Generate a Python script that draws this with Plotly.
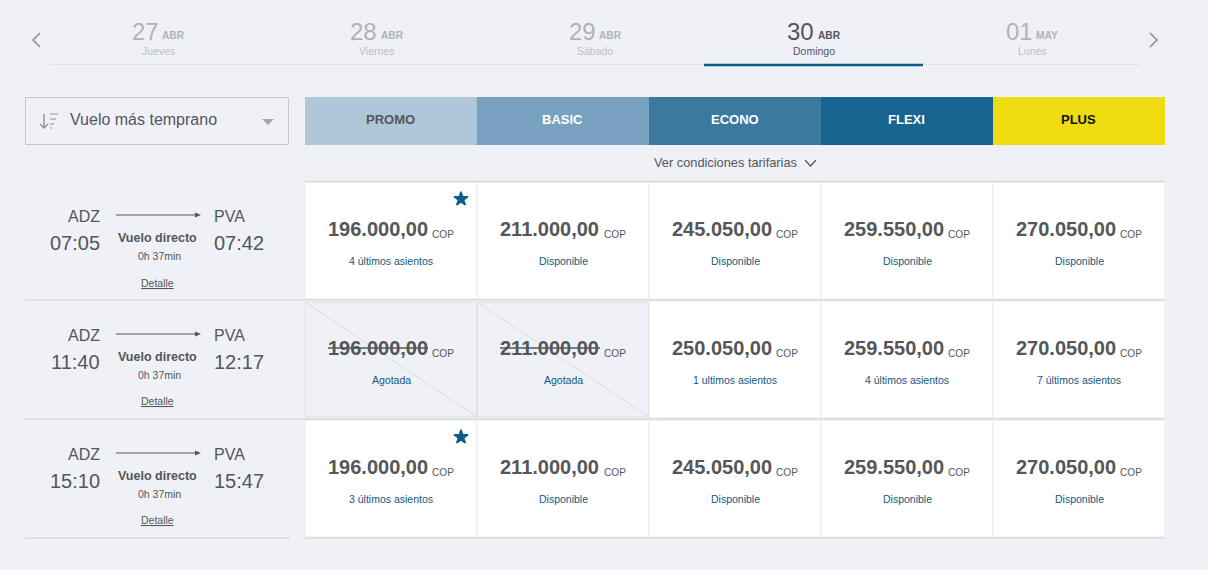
import plotly.graph_objects as go

# --- content -------------------------------------------------------------
date_days = ["27", "28", "29", "30", "01"]
date_months = ["ABR", "ABR", "ABR", "ABR", "MAY"]
date_weekdays = ["Jueves", "Viernes", "Sábado", "Domingo", "Lunes"]
active_date = 3

fares = ["PROMO", "BASIC", "ECONO", "FLEXI", "PLUS"]

origins = ["ADZ", "ADZ", "ADZ"]
destinations = ["PVA", "PVA", "PVA"]
departures = ["07:05", "11:40", "15:10"]
arrivals = ["07:42", "12:17", "15:47"]
flight_kind = ["Vuelo directo", "Vuelo directo", "Vuelo directo"]
durations = ["0h 37min", "0h 37min", "0h 37min"]

prices = [
    ["196.000,00", "211.000,00", "245.050,00", "259.550,00", "270.050,00"],
    ["196.000,00", "211.000,00", "250.050,00", "259.550,00", "270.050,00"],
    ["196.000,00", "211.000,00", "245.050,00", "259.550,00", "270.050,00"],
]
seats = [
    ["4 últimos asientos", "Disponible", "Disponible", "Disponible", "Disponible"],
    ["Agotada", "Agotada", "1 ultimos asientos", "4 últimos asientos", "7 últimos asientos"],
    ["3 últimos asientos", "Disponible", "Disponible", "Disponible", "Disponible"],
]
starred = [0, 2]

# --- style ---------------------------------------------------------------
BG = "#eff1f6"
FONT = "Liberation Sans"
DARK = "#54565c"
GREY = "#b1b3b8"
LINK = "#14587f"
NAVY = "#0e5c8c"
LINE = "#d8dade"
fare_fill = ["#b0c7d9", "#78a2bf", "#3c799f", "#186491", "#eedb10"]
fare_text = ["#54565c", "#ffffff", "#ffffff", "#ffffff", "#111111"]

shapes, annots = [], []


def text(x, y, s, size, color=DARK, anchor="center", bold=False):
    annots.append(dict(
        x=x, y=y, xref="x", yref="y", showarrow=False, xanchor=anchor,
        yanchor="middle", borderpad=0, borderwidth=0,
        text=f"<b>{s}</b>" if bold else s,
        font=dict(family=FONT, size=size, color=color),
    ))


def rect(x0, y0, x1, y1, fill, line=None, lw=1):
    shapes.append(dict(
        type="rect", xref="x", yref="y", x0=x0, y0=y0, x1=x1, y1=y1,
        fillcolor=fill, line=dict(color=line or "rgba(0,0,0,0)", width=lw if line else 0),
        layer="below",
    ))


def seg(x0, y0, x1, y1, color, lw=1, dash="solid", layer="below"):
    shapes.append(dict(
        type="line", xref="x", yref="y", x0=x0, y0=y0, x1=x1, y1=y1,
        line=dict(color=color, width=lw, dash=dash), layer=layer,
    ))


def path(d, color=None, lw=1.5, fill=None):
    shapes.append(dict(
        type="path", xref="x", yref="y", path=d,
        line=dict(color=color or "rgba(0,0,0,0)", width=lw if color else 0),
        fillcolor=fill or "rgba(0,0,0,0)", layer="above",
    ))


# date strip
TAB_X0, TAB_W = 49.5, 218.5
seg(50, 64.5, 1140, 64.5, "#d4d6da", 1, "1px,1px")
path("M40,33 L33,40 L40,47", "#8f9196", 1.6)
path("M1150,33 L1157,40 L1150,47", "#8f9196", 1.6)
for i, (d, m, w) in enumerate(zip(date_days, date_months, date_weekdays)):
    cx = TAB_X0 + TAB_W * (i + 0.5)
    on = i == active_date
    col = DARK if on else GREY
    text(cx, 31, d, 24, col, "right")
    text(cx + 3.5, 35, m, 10.2, col, "left", bold=True)
    text(cx - 0.5, 51, w, 10.5, DARK if on else "#bcbec3")
seg(704, 65, 923, 65, NAVY, 2.5, layer="above")

# sort box
rect(25.5, 97.5, 288.5, 144.5, BG, "#c4c6cb", 1)
text(70, 119, "Vuelo más temprano", 16, DARK, "left")
path("M44,114 L44,128 M40,124 L44,128 L48,124", "#8f9196", 1.4)
path("M50,114 L58,114 M50,119 L56,119 M50,124 L54,124 M50,128 L52,128", "#8f9196", 1.2)
path("M262,119 L274,119 L268,125 Z", None, fill="#a5a7ac")

# fare header
COL_X0, COL_W = 305, 172
for j, (name, fill, tc) in enumerate(zip(fares, fare_fill, fare_text)):
    x = COL_X0 + COL_W * j
    rect(x, 97, x + COL_W, 145, fill)
    text(x + COL_W / 2 - 0.5, 119, name, 13, tc, bold=True)
text(725.5, 162.3, "Ver condiciones tarifarias", 12.8, DARK)
path("M805,160 L810.5,166 L816,160", DARK, 1.2)

# rows
ROW_Y0 = 183
ROW_H = 119
CARD_H = 115
star_x, star_y = [], []
seg(305, 181.5, 1165, 181.5, LINE, 1.5)
for r in range(3):
    top = ROW_Y0 + ROW_H * r
    mid = top + 32
    base = top + CARD_H + 2
    if r < 2:
        seg(25, base, 1165, base, LINE, 1.5)
    else:
        seg(25, base, 290, base, LINE, 1.5)
        seg(305, base, 1165, base, LINE, 1.5)

    text(100, top + 33, origins[r], 16, DARK, "right")
    text(100, top + 59.5, departures[r], 20, DARK, "right")
    text(214, top + 33, destinations[r], 16, DARK, "left")
    text(214, top + 59.5, arrivals[r], 20, DARK, "left")
    text(157, top + 55, flight_kind[r], 12.5, DARK, bold=True)
    text(159, top + 72.5, durations[r], 10.5, DARK)
    text(157, top + 100 - (1 if r > 0 else 0), "<u>Detalle</u>", 10.5, DARK)
    seg(116, mid, 196, mid, DARK, 1)
    path(f"M195,{mid-2.5} L201,{mid} L195,{mid+2.5} Z", None, fill=DARK)

    for j in range(5):
        x = COL_X0 + COL_W * j
        sold = seats[r][j] == "Agotada"
        if sold:
            rect(x + 0.5, top + 0.5, x + COL_W - 0.5, top + CARD_H - 0.5, BG, "#e0e2e6", 1)
            seg(x, top, x + COL_W, top + CARD_H, "#dcdee2", 1)
        else:
            rect(x + 1, top, x + COL_W - 1, top + CARD_H, "#ffffff")
        text(x + 23, top + 46, prices[r][j], 20, DARK, "left", bold=True)
        if sold:
            seg(x + 23, top + 46, x + 123, top + 46, DARK, 1.4, layer="above")
        text(x + 127, top + 51, "COP", 10.1, DARK, "left")
        text(x + COL_W / 2, top + 78.3, seats[r][j], 10.5, LINK)

    if r in starred:
        star_x.append(COL_X0 + COL_W - 16)
        star_y.append(top + 16)

fig = go.Figure()
fig.add_trace(go.Scatter(
    x=star_x, y=star_y, mode="markers", hoverinfo="skip",
    marker=dict(symbol="star", size=10.5, color=NAVY, line=dict(width=1.5, color=NAVY)),
))
fig.update_layout(
    width=1208, height=570, margin=dict(l=0, r=0, t=0, b=0), autosize=False,
    paper_bgcolor=BG, plot_bgcolor=BG, showlegend=False,
    xaxis=dict(range=[0, 1208], visible=False, fixedrange=True),
    yaxis=dict(range=[570, 0], visible=False, fixedrange=True),
    shapes=shapes, annotations=annots,
)
fig.write_html(
    "out.html",
    config=dict(displayModeBar=False),
    post_script="document.body.style.margin='0';document.body.style.overflow='hidden';"
                "document.body.style.background='" + BG + "';",
)
